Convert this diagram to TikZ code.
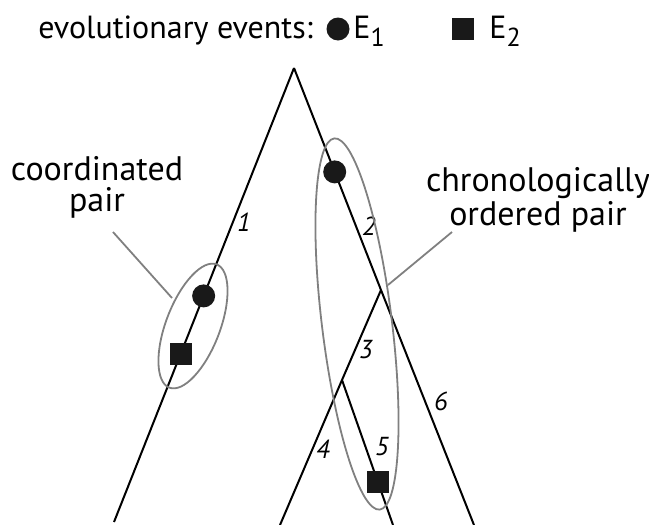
\documentclass[tikz,border=0pt]{standalone}
\usepackage{fontspec}
\setmainfont{PT Sans}
\begin{document}
\begin{tikzpicture}[x=0.5pt,y=-0.5pt,
  branch/.style={line width=1pt,draw=black},
  ring/.style={line width=0.9pt,draw=black!50},
  pointer/.style={line width=0.9pt,draw=black!50},
  evcirc/.style={circle,fill=black!90,minimum size=11.5pt,inner sep=0pt},
  evsq/.style={rectangle,fill=black!90,minimum size=11pt,inner sep=0pt},
  lbl/.style={font=\fontsize{17}{15.5}\selectfont,align=center,inner sep=0pt},
  head/.style={font=\fontsize{16}{18}\selectfont,inner sep=0pt},
  num/.style={font=\fontsize{13}{14}\selectfont\itshape,inner sep=0pt}]
\useasboundingbox (0,0) rectangle (649,525);

% legend
\node[head,anchor=base west] (title) at (38,38) {evolutionary events:};
\node[evcirc] (legc) at (338,29) {};
\node[head,anchor=base west] (le1) at (353,38) {E\raisebox{-0.55ex}{\fontsize{13}{14}\selectfont 1}};
\node[evsq] (legs) at (463,29) {};
\node[head,anchor=base west] (le2) at (489,38) {E\raisebox{-0.55ex}{\fontsize{13}{14}\selectfont 2}};

% tree vertices
\coordinate (root) at (294,68);
\coordinate (A) at (381,290);
\coordinate (B) at (342,380);
\coordinate (l1) at (114,522);
\coordinate (l4) at (280,525);
\coordinate (l5) at (393,525);
\coordinate (l6) at (474,525);

% branches
\draw[branch] (root) -- (l1);
\draw[branch] (root) -- (A);
\draw[branch] (A) -- (l6);
\draw[branch] (A) -- (B);
\draw[branch] (B) -- (l4);
\draw[branch] (B) -- (l5);

% branch numbers
\node[num] (n1) at (244,222) {1};
\node[num] (n2) at (369,226) {2};
\node[num] (n3) at (366,350) {3};
\node[num] (n4) at (323,449) {4};
\node[num] (n5) at (382,447) {5};
\node[num] (n6) at (441,401) {6};

% events on branches
\path (root) -- (l1) node[evcirc,pos=0.502] (ea) {} node[evsq,pos=0.630] (sa) {};
\path (root) -- (A) node[evcirc,pos=0.468] (eb) {};
\path (B) -- (l5) node[evsq,pos=0.705] (sb) {};

% pairs
\coordinate (cl) at (193,326);
\coordinate (cr) at (357,324);
\draw[ring] (cl) ellipse[x radius=27,y radius=66,rotate=-21];
\draw[ring] (cr) ellipse[x radius=35,y radius=187,rotate=7];

% captions and their pointers
\node[lbl] (coord) at (97,187) {coordinated\\pair};
\node[lbl] (chrono) at (538,200) {chronologically\\ordered pair};
\coordinate (pl0) at (113,232);
\coordinate (pl1) at (172,298);
\coordinate (pr0) at (452,232);
\coordinate (pr1) at (388,285);
\draw[pointer] (pl0) -- (pl1);
\draw[pointer] (pr0) -- (pr1);
\end{tikzpicture}
\end{document}
